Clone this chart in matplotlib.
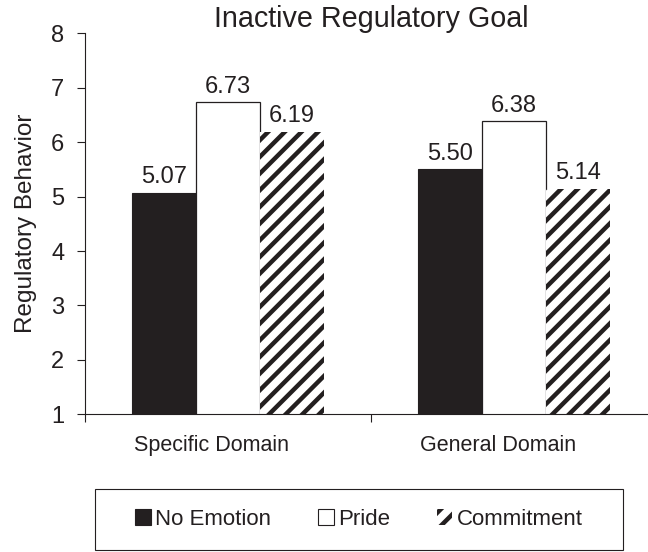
import matplotlib
matplotlib.use("Agg")
import matplotlib.pyplot as plt
import matplotlib.transforms as mtransforms
import numpy as np
from matplotlib.patches import Patch, Rectangle

plt.rcParams['font.family'] = ['Liberation Sans', 'DejaVu Sans']
plt.rcParams['hatch.linewidth'] = 3.2

INK = '#231f20'

# data
categories = ['Specific Domain', 'General Domain']
series = ['No Emotion', 'Pride', 'Commitment']
no_emotion = [5.07, 5.50]
pride = [6.73, 6.38]
commitment = [6.19, 5.14]
yticks = [1, 2, 3, 4, 5, 6, 7, 8]

fig = plt.figure(figsize=(6.48, 5.52), dpi=100)
# axis runs past the right edge of the picture, as in the reference
ax = fig.add_axes([85/648, 137.7/552, 572/648, 381/552])

centers = np.arange(len(categories)) + 0.5
w = 0.224

b1 = ax.bar(centers - w, no_emotion, w, color=INK, edgecolor=INK, linewidth=0.8)
b2 = ax.bar(centers, pride, w, color='white', edgecolor=INK, linewidth=0.9)
b3 = ax.bar(centers + w, commitment, w, color='white', edgecolor=INK,
            linewidth=0, hatch='//')

for bars in (b1, b2, b3):
    for r in bars:
        h = r.get_height()
        ax.annotate('%.2f' % h, (r.get_x() + r.get_width()/2, h),
                    xytext=(0, 7), textcoords='offset points',
                    ha='center', va='baseline', fontsize=17, color=INK)

ax.set_xlim(0, 2)
ax.set_ylim(1, 8)
ax.set_yticks(yticks)
ax.set_xticks([0, 1, 2])
ax.set_xticklabels([])
ax.set_xticks(centers, minor=True)
ax.set_xticklabels(categories, minor=True, fontsize=15.5, color=INK)
ax.tick_params(axis='x', which='major', direction='out', length=5.8,
               width=0.8, color=INK)
ax.tick_params(axis='x', which='minor', length=0, pad=15)
ax.tick_params(axis='y', direction='out', length=5.8, width=0.8, color=INK,
               labelsize=17, labelcolor=INK, pad=9)

# category labels sit a bit left of the bar groups in the original
shift = mtransforms.ScaledTranslation(-16/100, 0, fig.dpi_scale_trans)
for lab in ax.get_xticklabels(minor=True):
    lab.set_transform(lab.get_transform() + shift)

for s in ['top', 'right']:
    ax.spines[s].set_visible(False)
for s in ['left', 'bottom']:
    ax.spines[s].set_color(INK)
    ax.spines[s].set_linewidth(0.8)

ax.set_ylabel('Regulatory Behavior', fontsize=17.5, color=INK, labelpad=10)
ax.set_title('Inactive Regulatory Goal', fontsize=20.7, color=INK, pad=3)

# legend with its own frame
handles = [Patch(facecolor=INK, edgecolor=INK, linewidth=0.8),
           Patch(facecolor='white', edgecolor=INK, linewidth=0.8),
           Patch(facecolor='white', edgecolor=INK, linewidth=0, hatch='//')]
fig.legend(handles, series, loc='center', bbox_to_anchor=(359/648, 32.5/552),
           ncol=3, frameon=False, fontsize=16, handlelength=0.7,
           handleheight=0.7, handletextpad=0.2, columnspacing=2.1,
           labelcolor=INK)
fig.patches.append(Rectangle((95/648, 2/552), 528/648, 61/552,
                             transform=fig.transFigure, fill=False,
                             edgecolor=INK, linewidth=0.8))

fig.savefig('out.png', dpi=100)
